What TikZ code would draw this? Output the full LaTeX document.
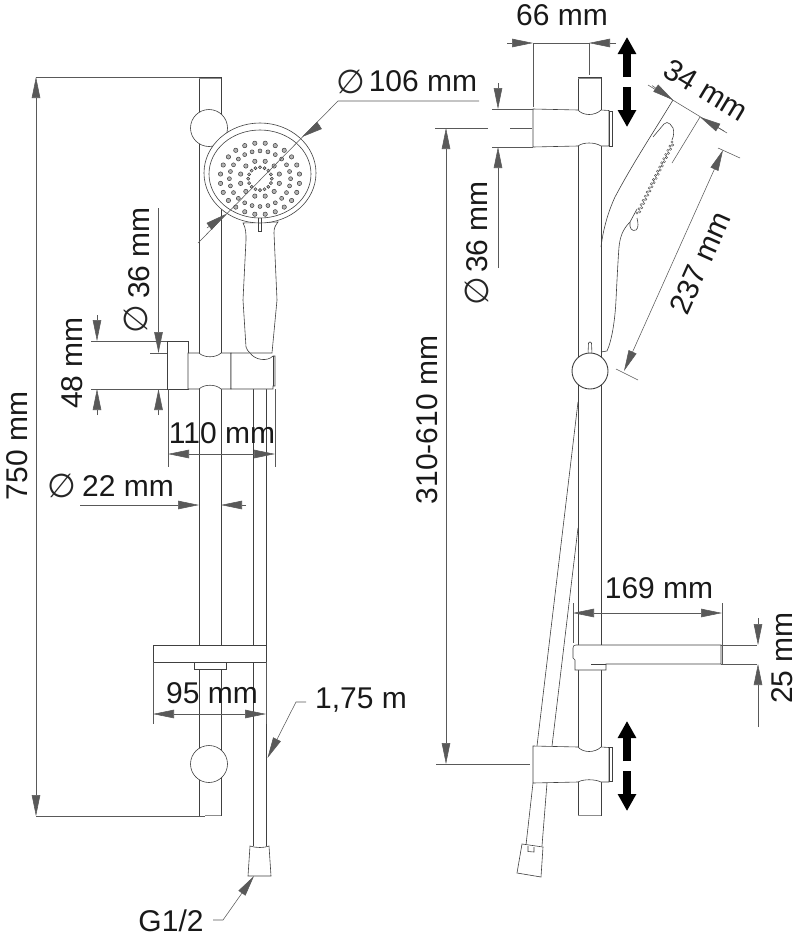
\documentclass[tikz,border=0pt]{standalone}
\usepackage{fontspec}
\setmainfont{Liberation Sans}
\newfontfamily\diafont{DejaVu Sans}
\usepackage{tikz}
\usetikzlibrary{arrows.meta}
\tikzset{
  part/.style={draw=black!75,line width=.6pt,fill=white},
  edge/.style={draw=black!75,line width=.6pt},
  capline/.style={draw=black!45,line width=1.3pt},
  dim/.style={draw=black!65,line width=.55pt},
  nozzle/.style={draw=black!80,fill=black!30,line width=.45pt},
  bead/.style={draw=black!70,line width=.4pt},
  bigarrow/.style={draw=black,line width=8.5pt,-{Triangle[length=17pt,width=17.5pt]}},
  lbl/.style={inner sep=0pt,font=\fontsize{30}{32}\selectfont,text=black!90},
  dia/.style={inner sep=0pt,font=\diafont\fontsize{33}{36}\selectfont,text=black!85},
}
\begin{document}
\begin{tikzpicture}[x=1pt,y=-1pt,>={Stealth[length=21pt,width=8.5pt,inset=0pt]}]
  \useasboundingbox (0,0) rectangle (797,938);

  % left view
  \draw[edge] (199,77) -- (199,816);
  \draw[edge] (221,77) -- (221,816);
  \draw[edge] (199,77) -- (221,77);
  \draw[capline] (199,78.5) -- (221,78.5);
  \draw[capline] (205,815.5) -- (221,815.5);
  \draw[part] (209,128) circle (18.5pt);
  \draw[part] (209,764) circle (18.5pt);
  \draw[edge] (253,389) -- (253,846);
  \draw[edge] (266.6,389) -- (266.6,846);
  \draw[part] (153,645) rectangle (266,662);
  \draw[part] (194,662) rectangle (226,669);
  \draw[part] (250,846) .. controls (256,848) and (264,848) .. (269,846) -- (271,876) -- (248,876) -- cycle;

  \draw[part] (243,223) .. controls (246,228) and (246,234) .. (246,240) -- (243,300) -- (246,347)
    .. controls (247,350) and (248,351) .. (250,353) -- (272,353) -- (277,300) -- (274,233)
    .. controls (274,228) and (275,226) .. (278,222) -- cycle;
  \draw[part] (260,173) ellipse (56pt and 50pt);
  \draw[edge] (260,174) ellipse (51pt and 44pt);
  \draw[edge] (258.5,218) -- (258.5,231) -- (261.5,231) -- (261.5,218);
  \foreach \a in {0,...,23} {
    \draw[nozzle] ({260+39.8*cos(7.5+15*\a)},{178.7+35.8*sin(7.5+15*\a)}) circle (2.2pt);
    \draw[nozzle] ({260+30.6*cos(15*\a)},{178.7+27.8*sin(15*\a)}) circle (2pt);
  }
  \foreach \a in {0,...,11}
    \draw[nozzle] ({260+20*cos(15+30*\a)},{178.7+18*sin(15+30*\a)}) circle (2.2pt);
  \foreach \a in {0,...,15}
    \draw[nozzle] ({260+11.8*cos(22.5*\a)},{178.7+11.4*sin(22.5*\a)}) circle (1.6pt);

  \draw[part] (167,341) -- (188,341) -- (188,389) -- (167,389) -- cycle;
  \draw[part] (188,353) -- (199,353) .. controls (204,358) and (216,358) .. (221,353) -- (231,353)
    -- (231,389) -- (221,389) .. controls (216,384) and (204,384) .. (199,389) -- (188,389) -- cycle;
  \draw[part] (231,353) -- (250,353) .. controls (255,360) and (267,362) .. (273,356) -- (275,356)
    -- (275,386) -- (273,386) -- (273,389) -- (231,389) -- cycle;
  \draw[edge] (273,356) -- (273,386);

  \draw[dim] (36,77) -- (199,77);
  \draw[dim] (36,816) -- (205,816);
  \draw[dim,<->] (36,77) -- (36,816);
  \node[lbl,rotate=90] (len750) at (17,446) {750 mm};

  \draw[dim] (479,101) -- (338,101) -- (198,243);
  \draw[dim,->] (207,228) -- (226,214);
  \draw[dim,->] (320,125) -- (302,137);
  \node[dia] (diaHead) at (351,82) {∅};
  \node[lbl] (head106) at (423,81) {106 mm};

  \draw[dim] (91,341) -- (167,341);
  \draw[dim] (91,389) -- (167,389);
  \draw[dim] (150,353) -- (167,353);
  \draw[dim,->] (97,315) -- (97,341);
  \draw[dim,->] (97,415) -- (97,389);
  \node[lbl,rotate=90] (wall48) at (72,363) {48 mm};
  \draw[dim,->] (158.5,208) -- (158.5,353);
  \draw[dim,->] (158.5,415) -- (158.5,389);
  \node[lbl,rotate=90] (hose36) at (139,253) {36 mm};
  \node[dia,rotate=90] (diaHose) at (136,319) {∅};

  \draw[dim] (168,389) -- (168,467);
  \draw[dim] (275,389) -- (275,467);
  \draw[dim,<->] (168,454) -- (275,454);
  \node[lbl] (depth110) at (222,433) {110 mm};

  \draw[dim,->] (80,505) -- (199,505);
  \draw[dim,->] (246,505) -- (221,505);
  \node[lbl] (rail22) at (128,486) {22 mm};
  \node[dia] (diaRail) at (62,486) {∅};

  \draw[dim] (153,662) -- (153,724);
  \draw[dim] (266,662) -- (266,724);
  \draw[dim,<->] (153,714) -- (266,714);
  \node[lbl] (dish95) at (212,693) {95 mm};

  \draw[dim,->] (306,702) -- (296,702) -- (267.5,758);
  \node[lbl] (hoseLen) at (361,700) {1,75 m};
  \draw[dim,->] (213,920) -- (223,920) -- (254,876);
  \node[lbl] (thread) at (171,921) {G1/2};

  % right view
  \draw[edge] (578,402) -- (537,746);
  \draw[edge] (578,528) -- (552,746);
  \draw[edge] (533,783) -- (526,845);
  \draw[edge] (547,783) -- (542,846);
  \draw[part] (522,844) -- (543,847) -- (541,877) -- (517,873) -- cycle;
  \draw[edge] (528,846) -- (528,851.5) -- (534,852) -- (534,847);

  \draw[edge] (578,77) -- (578,816);
  \draw[edge] (601,77) -- (601,816);
  \draw[edge] (578,77) -- (601,77);
  \draw[capline] (578,78.5) -- (601,78.5);
  \draw[capline] (578,815.5) -- (601,815.5);

  \draw[part] (533,109) -- (578,110) .. controls (583,116) and (595,116) .. (601,110) -- (609,110.5)
    -- (609,146) -- (601,146) .. controls (595,142) and (583,142) .. (578,146) -- (533,147) -- cycle;
  \draw[part] (609,111) rectangle (612,146);
  \draw[part] (533,746) -- (578,747) .. controls (583,753) and (595,753) .. (601,747) -- (609,747.5)
    -- (609,782) -- (601,782) .. controls (595,779) and (583,779) .. (578,782) -- (533,783) -- cycle;
  \draw[part] (609,747.5) rectangle (612,781);

  \draw[part] (573,648) .. controls (573,646) and (574,645) .. (576,645) -- (721,645) -- (721,664)
    -- (606,664) -- (606,670) -- (575,670) -- (575,660) -- (573,658) -- cycle;
  \draw[edge] (591,664) -- (606,664);

  \draw[edge] (673,100) .. controls (653,133) and (633,163) .. (615,197)
    .. controls (608,212) and (603,230) .. (601,247);
  \draw[edge] (601,352) -- (607,351) .. controls (612,340) and (615,320) .. (616,300)
    .. controls (617,280) and (618,260) .. (619,247) .. controls (620,238) and (622,230) .. (630,222)
    -- (637,209);
  \draw[edge] (653,137) -- (664,124) .. controls (666,122) and (668,122) .. (670,124) -- (673,128)
    .. controls (674,131) and (674,136) .. (672,140);
  \draw[edge] (630,222) .. controls (629,228) and (632,232) .. (636,230) .. controls (639,228) and (638,222) .. (637,218);
  \foreach \t in {0,...,34}
    \draw[bead] ({672-35*\t/34+mod(\t,2)*1.6},{142+71*\t/34+mod(\t,2)*.9}) circle (1.15pt);

  \draw[edge] (588,354) -- (588.5,343) .. controls (589,341.5) and (591,341.5) .. (591.5,343) -- (592,354);
  \draw[part,line width=.9pt] (590,371) circle (18pt);

  \draw[dim] (533,43) -- (533,107);
  \draw[dim] (589,43) -- (589,75);
  \draw[dim,->] (507,43) -- (533,43);
  \draw[dim] (533,43) -- (589,43);
  \draw[dim,->] (616,43) -- (589,43);
  \node[lbl] (mount66) at (562,15) {66 mm};

  \draw[bigarrow] (627,77) -- (627,37);
  \draw[bigarrow] (627,87) -- (627,127);
  \draw[bigarrow] (627,761) -- (627,721);
  \draw[bigarrow] (627,771) -- (627,811);

  \draw[dim] (492,109) -- (533,109);
  \draw[dim] (492,147) -- (533,147);
  \draw[dim,->] (498,83) -- (498,109);
  \draw[dim,->] (498,268) -- (498,147);
  \node[lbl,rotate=90] (hose36b) at (477,227) {36 mm};
  \node[dia,rotate=90] (diaHoseB) at (477,291) {∅};

  \draw[dim] (435,128) -- (488,128);
  \draw[dim] (510,128) -- (532,128);
  \draw[dim] (436,764) -- (530,764);
  \draw[dim,<->] (446,128) -- (446,764);
  \node[lbl,rotate=90] (adjust) at (427,420) {310-610 mm};

  \draw[dim] (648,85) -- (727,133);
  \draw[dim,->] (652,85.5) -- (673,100);
  \draw[dim,->] (724,131) -- (700,117);
  \draw[dim] (700,117) -- (672,163);
  \node[lbl,rotate=-31] (head34) at (706,90) {34 mm};

  \draw[dim] (718,148) -- (740,158);
  \draw[dim] (616,369) -- (638,380);
  \draw[dim,<->] (624,371) -- (723,150);
  \node[lbl,rotate=66] (total237) at (700,263) {237 mm};

  \draw[dim] (573,603) -- (573,643);
  \draw[dim] (722,603) -- (722,664);
  \draw[dim,<->] (573,613) -- (722,613);
  \node[lbl] (dish169) at (659,588) {169 mm};

  \draw[dim] (721,645) -- (757,645);
  \draw[dim] (721,664) -- (757,664);
  \draw[dim,->] (758,618) -- (758,645);
  \draw[dim,->] (758,727) -- (758,664);
  \node[lbl,rotate=90] (dish25) at (782,658) {25 mm};
\end{tikzpicture}
\end{document}
